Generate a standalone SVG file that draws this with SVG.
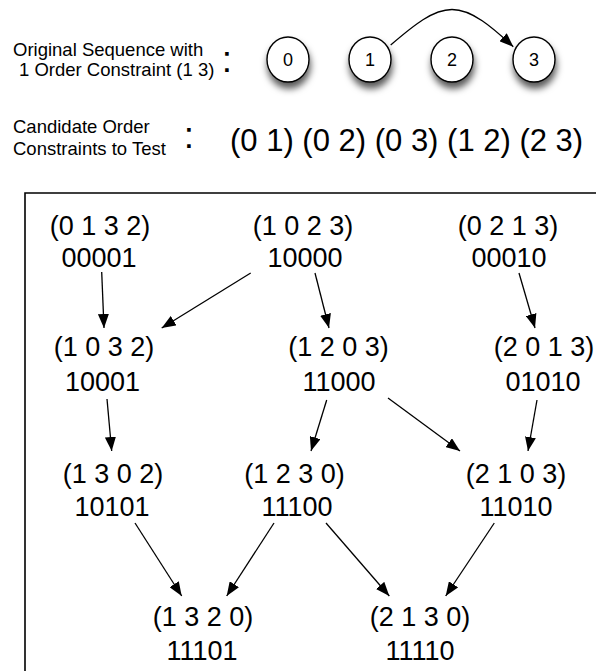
<svg xmlns="http://www.w3.org/2000/svg" width="600" height="671" viewBox="0 0 600 671">
<style>
  text { font-family: "Liberation Sans", Arial, sans-serif; fill: #000; }
  .lbl { font-size: 18.5px; }
  .colon { font-size: 37px; text-anchor: middle; }
  .big { font-size: 31px; }
  .n { font-size: 27px; text-anchor: middle; }
  .cd { font-size: 18px; text-anchor: middle; }
  .circ { fill: #fff; stroke: #000; stroke-width: 1.4; }
  .edge { stroke: #000; stroke-width: 1.3; fill: none; marker-end: url(#ah); }
  .box { stroke: #000; stroke-width: 1.6; fill: none; }
</style>
<defs>
  <marker id="ah" markerUnits="userSpaceOnUse" markerWidth="14" markerHeight="11" refX="14" refY="5.5" orient="auto">
    <path d="M0,0 L14,5.5 L0,11 z" fill="#000"/>
  </marker>
  <filter id="sh" x="-50%" y="-50%" width="200%" height="220%">
    <feDropShadow dx="1" dy="6" stdDeviation="3.5" flood-color="#000" flood-opacity="0.65"/>
  </filter>
</defs>
<rect width="600" height="671" fill="#fff"/>

<g id="header">
  <text class="lbl" x="13" y="56">Original Sequence with</text>
  <text class="lbl" x="19" y="76">1 Order Constraint (1 3)</text>
  <text class="colon" x="227" y="71.5">:</text>
  <text class="lbl" x="13" y="133">Candidate Order</text>
  <text class="lbl" x="13" y="155">Constraints to Test</text>
  <text class="colon" x="189" y="147.5">:</text>
  <text class="big" x="230" y="151">(0 1) (0 2) (0 3) (1 2) (2 3)</text>
</g>

<g id="seq0"><ellipse class="circ" filter="url(#sh)" cx="288" cy="59.5" rx="21" ry="22.5"/><text class="cd" x="288" y="66">0</text></g>
<g id="seq1"><ellipse class="circ" filter="url(#sh)" cx="370" cy="59.5" rx="21" ry="22.5"/><text class="cd" x="370" y="66">1</text></g>
<g id="seq2"><ellipse class="circ" filter="url(#sh)" cx="452" cy="59.5" rx="21" ry="22.5"/><text class="cd" x="452" y="66">2</text></g>
<g id="seq3"><ellipse class="circ" filter="url(#sh)" cx="534" cy="59.5" rx="21" ry="22.5"/><text class="cd" x="534" y="66">3</text></g>

<g id="frame"><path class="box" d="M25,671 V193 H596"/></g>

<g id="n0132"><text class="n" x="100" y="235">(0 1 3 2)</text><text class="n" x="99" y="267">00001</text></g>
<g id="n1023"><text class="n" x="303" y="235">(1 0 2 3)</text><text class="n" x="305" y="267">10000</text></g>
<g id="n0213"><text class="n" x="508" y="235">(0 2 1 3)</text><text class="n" x="509" y="267">00010</text></g>
<g id="n1032"><text class="n" x="104" y="356">(1 0 3 2)</text><text class="n" x="102.5" y="391">10001</text></g>
<g id="n1203"><text class="n" x="338.5" y="356">(1 2 0 3)</text><text class="n" x="339" y="391">11000</text></g>
<g id="n2013"><text class="n" x="544" y="356">(2 0 1 3)</text><text class="n" x="543" y="391">01010</text></g>
<g id="n1302"><text class="n" x="113" y="483">(1 3 0 2)</text><text class="n" x="112" y="516">10101</text></g>
<g id="n1230"><text class="n" x="294.5" y="483">(1 2 3 0)</text><text class="n" x="297" y="516">11100</text></g>
<g id="n2103"><text class="n" x="516" y="483">(2 1 0 3)</text><text class="n" x="516" y="516">11010</text></g>
<g id="n1320"><text class="n" x="203" y="626">(1 3 2 0)</text><text class="n" x="202" y="660">11101</text></g>
<g id="n2130"><text class="n" x="420" y="626">(2 1 3 0)</text><text class="n" x="420" y="660">11110</text></g>

<g id="connectors">
  <path class="edge" d="M390.7,45 C414,25 433,9.5 452,9.5 C472,9.5 492,27 513.3,46.7"/>
  <line class="edge" x1="101.7" y1="272" x2="104" y2="328"/>
  <line class="edge" x1="250.7" y1="273" x2="161.7" y2="328"/>
  <line class="edge" x1="315" y1="273" x2="329" y2="328"/>
  <line class="edge" x1="519" y1="273" x2="535" y2="328"/>
  <line class="edge" x1="107" y1="399" x2="111.7" y2="451"/>
  <line class="edge" x1="326.7" y1="400" x2="311" y2="451"/>
  <line class="edge" x1="388" y1="398" x2="460" y2="451"/>
  <line class="edge" x1="537" y1="400" x2="528" y2="451"/>
  <line class="edge" x1="135" y1="523" x2="181.7" y2="596"/>
  <line class="edge" x1="274" y1="523" x2="226.7" y2="596"/>
  <line class="edge" x1="326" y1="523" x2="389.3" y2="596"/>
  <line class="edge" x1="494.3" y1="523" x2="445.7" y2="596"/>
</g>
</svg>
